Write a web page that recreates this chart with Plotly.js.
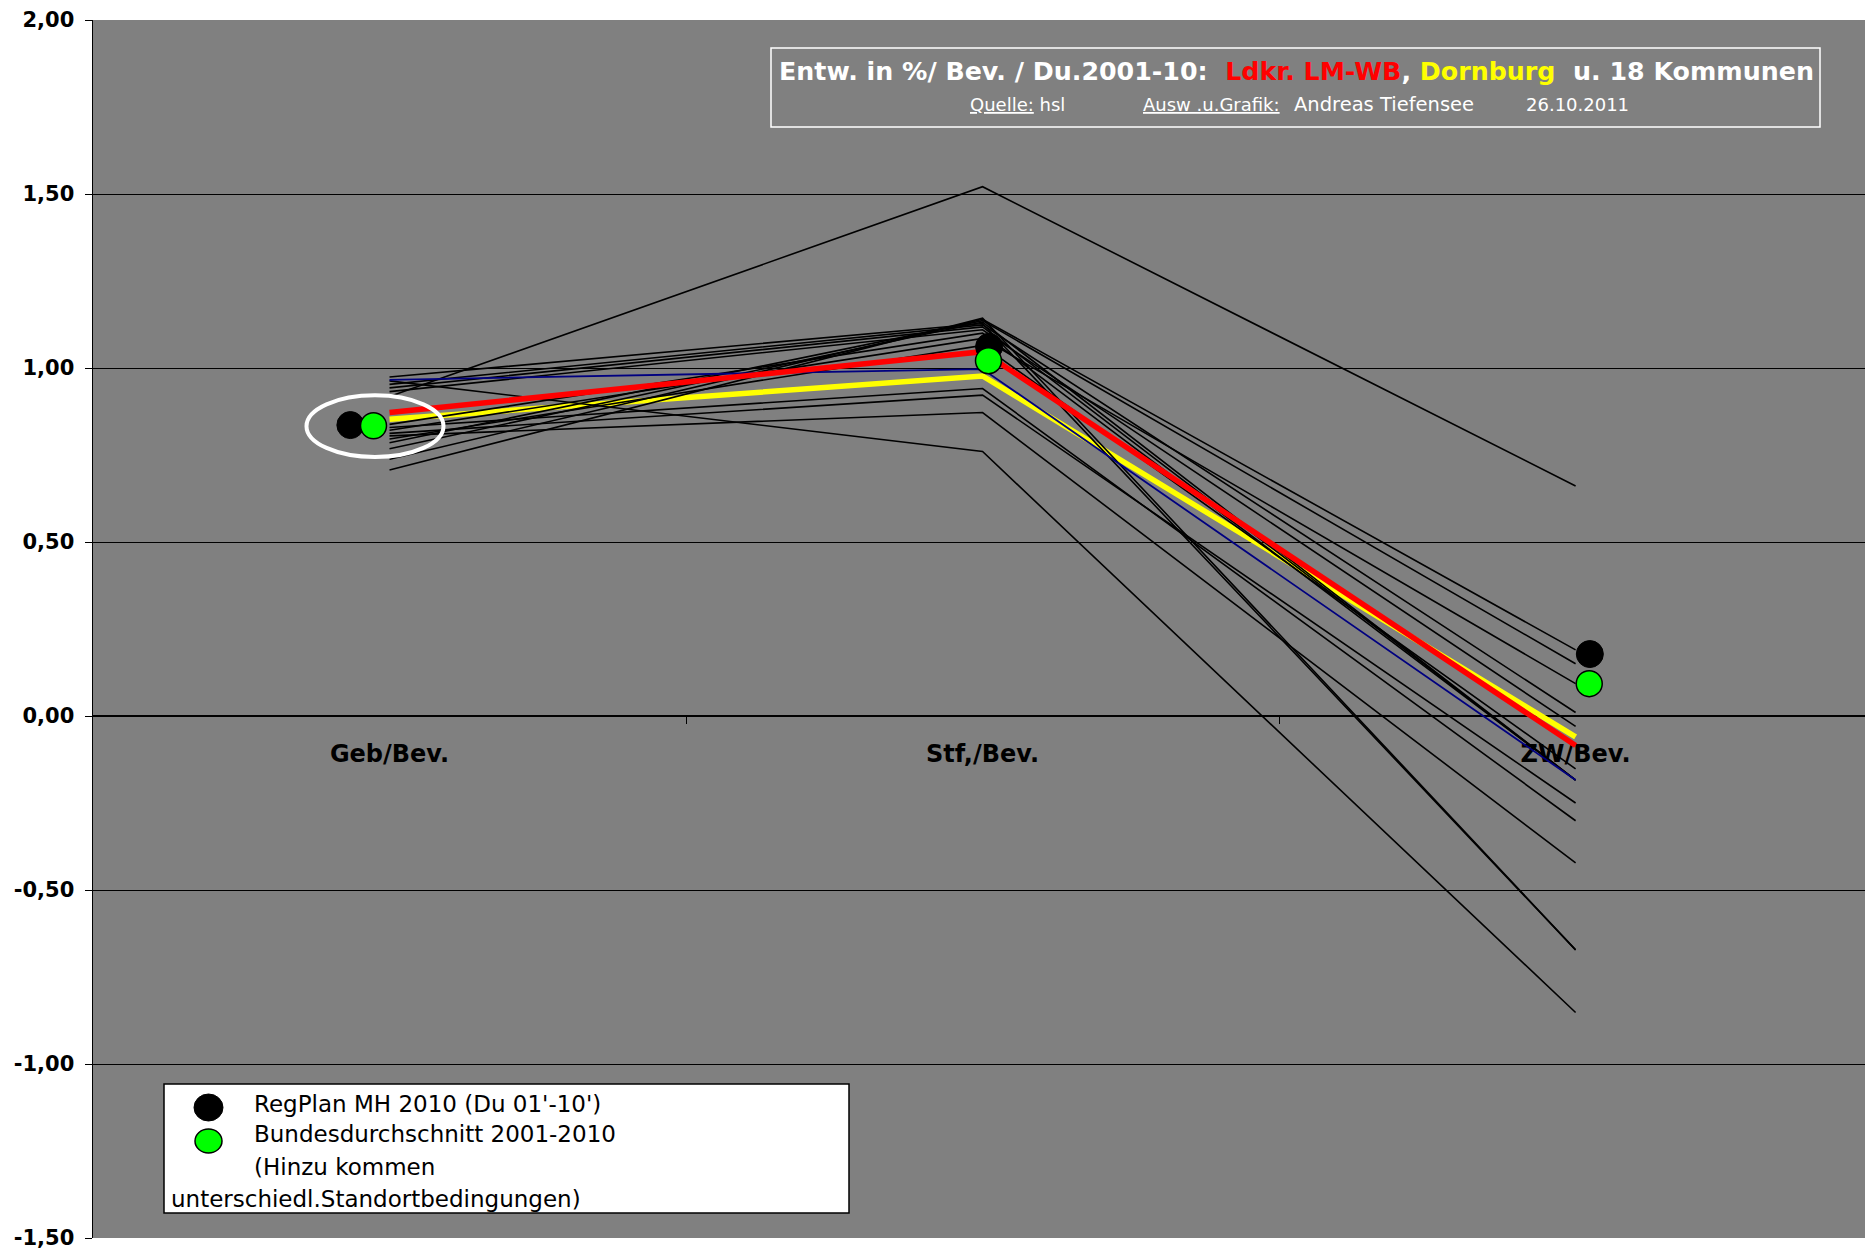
<!DOCTYPE html>
<html>
<head>
<meta charset="utf-8">
<script src="https://cdn.plot.ly/plotly-3.0.1.min.js"></script>
<style>
  html, body { margin: 0; padding: 0; background: #ffffff; }
  #chart { width: 1865px; height: 1254px; }
</style>
</head>
<body>
<div id="chart"></div>
<script>
// ---------------- data ----------------
const categories = ['Geb/Bev.', 'Stf,/Bev.', 'ZW/Bev.'];

// Landkreis (red) and Dornburg (yellow)
const ldkrLMWB = [0.872, 1.047, -0.085];
const dornburg = [0.853, 0.977, -0.060];

// one municipality drawn in navy
const kommuneNavy = [0.966, 0.997, -0.184];

// remaining municipalities (black lines)
const kommune01 = [0.918, 1.521, 0.661];
const kommune02 = [0.963, 0.760, -0.852];
const kommune03 = [0.805, 0.872, -0.422];
const kommune04 = [0.812, 0.922, -0.250];
const kommune05 = [0.829, 0.941, -0.301];
const kommune06 = [0.974, 1.128, -0.672];
const kommune07 = [0.953, 1.124, 0.010];
const kommune08 = [0.943, 1.118, -0.184];
const kommune09 = [0.932, 1.110, -0.030];
const kommune10 = [0.838, 1.100, -0.184];
const kommune11 = [0.821, 1.085, 0.093];
const kommune12 = [0.796, 1.065, -0.152];
const kommune13 = [0.785, 1.136, 0.150];
const kommune14 = [0.768, 1.132, -0.184];
const kommune15 = [0.738, 1.140, 0.190];
const kommune16 = [0.707, 1.143, -0.672];

// reference dots
const regPlanMH2010 = [0.836, 1.061, 0.178];
const bundesdurchschnitt = [0.834, 1.021, 0.093];

const yTickVals = [-1.5, -1.0, -0.5, 0, 0.5, 1.0, 1.5, 2.0];
const yTickText = ['-1,50', '-1,00', '-0,50', '0,00', '0,50', '1,00', '1,50', '2,00'];

// ---------------- styling / positioning ----------------
const blackKommunen = [kommune01, kommune02, kommune03, kommune04, kommune05, kommune06,
  kommune07, kommune08, kommune09, kommune10, kommune11, kommune12, kommune13,
  kommune14, kommune15, kommune16];

// small horizontal nudges of the dots around each category (style)
const regShift = [-0.066, 0.011, 0.024];
const bundShift = [-0.027, 0.010, 0.023];

const catX = categories.map((c, i) => i);
const BLACK = '#000000';

const traces = [];

// Dornburg (yellow) under the black lines
traces.push({
  type: 'scatter', mode: 'lines', x: catX, y: dornburg,
  line: { color: '#ffff00', width: 5.5 }, hoverinfo: 'skip'
});

blackKommunen.forEach(v => {
  traces.push({
    type: 'scatter', mode: 'lines', x: catX, y: v,
    line: { color: BLACK, width: 1.6 }, hoverinfo: 'skip'
  });
});

traces.push({
  type: 'scatter', mode: 'lines', x: catX, y: kommuneNavy,
  line: { color: '#000080', width: 1.8 }, hoverinfo: 'skip'
});

traces.push({
  type: 'scatter', mode: 'lines', x: catX, y: ldkrLMWB,
  line: { color: '#ff0000', width: 5.5 }, hoverinfo: 'skip'
});

traces.push({
  type: 'scatter', mode: 'markers',
  x: catX.map((x, i) => x + regShift[i]), y: regPlanMH2010,
  marker: { color: BLACK, size: 27, line: { color: BLACK, width: 1 } },
  hoverinfo: 'skip'
});
traces.push({
  type: 'scatter', mode: 'markers',
  x: catX.map((x, i) => x + bundShift[i]), y: bundesdurchschnitt,
  marker: { color: '#00ff00', size: 26, line: { color: BLACK, width: 1.5 } },
  hoverinfo: 'skip'
});

// ---------------- layout ----------------
const L = 93, T = 20, W = 1865, H = 1254, B = 16;
const plotH = H - T - B;
const plotW = W - L;
const px = x => (x - L) / plotW;          // pixel -> paper x
const py = y => (H - B - y) / plotH;      // pixel -> paper y

const zeroPos = (0 - (-1.5)) / (2 - (-1.5));

const legendFont = { family: 'DejaVu Sans', size: 23, color: BLACK };
const subFont = { family: 'DejaVu Sans', size: 18, color: '#ffffff' };

const layout = {
  width: W, height: H,
  margin: { l: L, r: 0, t: T, b: B, pad: 0 },
  paper_bgcolor: '#ffffff',
  plot_bgcolor: '#808080',
  showlegend: false,
  separators: ',.',
  font: { family: 'DejaVu Sans', color: BLACK },
  xaxis: {
    range: [-0.5, 2.488],
    tickvals: catX,
    ticktext: categories,
    ticks: '',
    showgrid: false, zeroline: false, showline: false,
    anchor: 'free', position: zeroPos,
    layer: 'below traces',
    tickfont: { family: 'DejaVu Sans', size: 24, color: BLACK, weight: 'bold' },
    ticklabelstandoff: 21,
    minor: { tickvals: [0.5, 1.5], ticks: 'outside', ticklen: 7, tickcolor: BLACK, tickwidth: 1, showgrid: false },
    fixedrange: true
  },
  yaxis: {
    range: [-1.5, 2.0],
    tickvals: yTickVals,
    ticktext: yTickText,
    ticks: 'outside', ticklen: 7, tickcolor: BLACK, tickwidth: 1,
    showline: true, linecolor: BLACK, linewidth: 1.5,
    showgrid: true, gridcolor: BLACK, gridwidth: 1,
    zeroline: true, zerolinecolor: BLACK, zerolinewidth: 1.5,
    tickfont: { family: 'DejaVu Sans', size: 21, color: BLACK, weight: 'bold' },
    ticklabelstandoff: 6,
    layer: 'below traces',
    fixedrange: true
  },
  shapes: [
    // title frame
    { type: 'rect', xref: 'paper', yref: 'paper',
      x0: px(771), x1: px(1820), y0: py(127), y1: py(48),
      line: { color: '#ffffff', width: 1.5 }, fillcolor: 'rgba(0,0,0,0)' },
    // white ellipse highlighting the Geb dots
    { type: 'circle', xref: 'x', yref: 'y', layer: 'above',
      x0: -0.140, x1: 0.091, y0: 0.7443, y1: 0.9216,
      line: { color: '#ffffff', width: 4 } },
    // legend frame
    { type: 'rect', xref: 'paper', yref: 'paper',
      x0: px(164), x1: px(849), y0: py(1213), y1: py(1084),
      line: { color: BLACK, width: 1.5 }, fillcolor: '#ffffff', layer: 'above' },
    // legend swatches
    { type: 'circle', xref: 'paper', yref: 'paper', layer: 'above',
      x0: px(194), x1: px(223), y0: py(1121), y1: py(1094),
      fillcolor: BLACK, line: { color: BLACK, width: 1 } },
    { type: 'circle', xref: 'paper', yref: 'paper', layer: 'above',
      x0: px(195), x1: px(222), y0: py(1153), y1: py(1129),
      fillcolor: '#00ff00', line: { color: BLACK, width: 1.5 } }
  ],
  annotations: [
    { xref: 'paper', yref: 'paper', x: px(1296), y: py(72), xanchor: 'center', yanchor: 'middle',
      showarrow: false,
      text: 'Entw. in %/ Bev. / Du.2001-10:\u00a0 <span style="color:#ff0000">Ldkr. LM-WB</span>, <span style="color:#ffff00">Dornburg</span>\u00a0 u. 18 Kommunen',
      font: { family: 'DejaVu Sans', size: 25.3, color: '#ffffff', weight: 'bold' } },
    { xref: 'paper', yref: 'paper', x: px(968), y: py(104), xanchor: 'left', yanchor: 'middle',
      showarrow: false, text: '<u>Quelle:</u> hsl', font: subFont },
    { xref: 'paper', yref: 'paper', x: px(1141), y: py(104), xanchor: 'left', yanchor: 'middle',
      showarrow: false, text: '<u>Ausw .u.Grafik:</u>', font: subFont },
    { xref: 'paper', yref: 'paper', x: px(1292), y: py(104), xanchor: 'left', yanchor: 'middle',
      showarrow: false, text: 'Andreas Tiefensee',
      font: { family: 'DejaVu Sans', size: 19.5, color: '#ffffff' } },
    { xref: 'paper', yref: 'paper', x: px(1524), y: py(104), xanchor: 'left', yanchor: 'middle',
      showarrow: false, text: '26.10.2011', font: subFont },
    // legend texts
    { xref: 'paper', yref: 'paper', x: px(252), y: py(1104), xanchor: 'left', yanchor: 'middle',
      showarrow: false, text: "RegPlan MH 2010 (Du 01'-10')", font: legendFont },
    { xref: 'paper', yref: 'paper', x: px(252), y: py(1134), xanchor: 'left', yanchor: 'middle',
      showarrow: false, text: 'Bundesdurchschnitt 2001-2010', font: legendFont },
    { xref: 'paper', yref: 'paper', x: px(252), y: py(1167), xanchor: 'left', yanchor: 'middle',
      showarrow: false, text: '(Hinzu kommen', font: legendFont },
    { xref: 'paper', yref: 'paper', x: px(169), y: py(1199), xanchor: 'left', yanchor: 'middle',
      showarrow: false, text: 'unterschiedl.Standortbedingungen)', font: legendFont }
  ]
};

Plotly.newPlot('chart', traces, layout, { displayModeBar: false, staticPlot: true });
</script>
</body>
</html>
